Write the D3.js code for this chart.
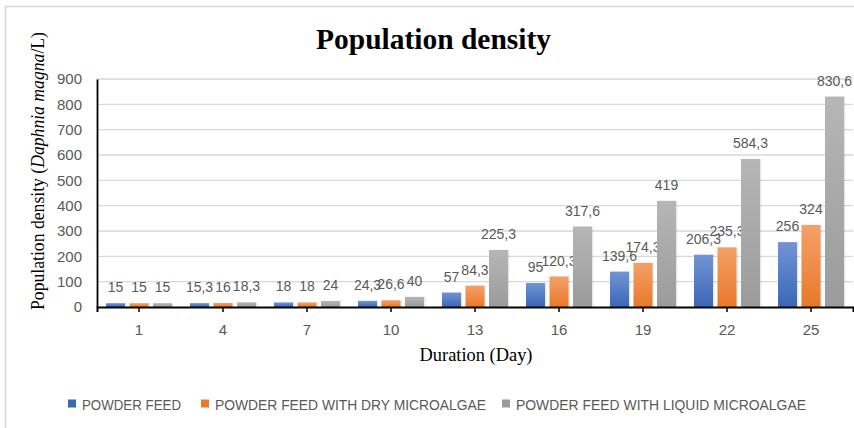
<!DOCTYPE html>
<html>
<head>
<meta charset="utf-8">
<script src="https://cdn.jsdelivr.net/npm/d3@7"></script>
<style>
  html, body { margin: 0; padding: 0; background: #fff; }
  svg { display: block; }
</style>
</head>
<body>
<svg id="chart" width="854" height="428"></svg>
<script>
const days = ["1", "4", "7", "10", "13", "16", "19", "22", "25"];
const seriesNames = ["POWDER FEED", "POWDER FEED WITH DRY MICROALGAE", "POWDER FEED WITH LIQUID MICROALGAE"];
const powderFeed = [15, 15.3, 18, 24.3, 57, 95, 139.6, 206.3, 256];
const dryMicroalgae = [15, 16, 18, 26.6, 84.3, 120.3, 174.3, 235.3, 324];
const liquidMicroalgae = [15, 18.3, 24, 40, 225.3, 317.6, 419, 584.3, 830.6];
const yTicks = [0, 100, 200, 300, 400, 500, 600, 700, 800, 900];
const colors = [["#7294d6", "#3b67b6"], ["#f4a068", "#e8792a"], ["#b6b6b6", "#9b9b9b"]];

const allSeries = [powderFeed, dryMicroalgae, liquidMicroalgae];
const svg = d3.select("#chart");

// outer border
svg.append("rect").attr("x", 5.5).attr("y", 6.5).attr("width", 900).attr("height", 500)
  .attr("fill", "none").attr("stroke", "#d9d9d9").attr("stroke-width", 1.5);

const plotL = 97, plotR = 853, plotT = 79, plotB = 307;

const x = d3.scaleBand().domain(days).range([plotL, plotR]).paddingInner(0.214).paddingOuter(0.107);
const xi = d3.scaleBand().domain(seriesNames).range([0, x.bandwidth()]).paddingInner(0.19);
const y = d3.scaleLinear().domain([0, 900]).range([plotB, plotT]);

// gradients
const defs = svg.append("defs");
colors.forEach((c, i) => {
  const g = defs.append("linearGradient").attr("id", "g" + i).attr("x1", 0).attr("y1", 0).attr("x2", 0).attr("y2", 1);
  g.append("stop").attr("offset", "0%").attr("stop-color", c[0]);
  g.append("stop").attr("offset", "100%").attr("stop-color", c[1]);
});

// gridlines
svg.append("g").selectAll("line").data(yTicks.filter(d => d > 0)).join("line")
  .attr("x1", plotL).attr("x2", plotR)
  .attr("y1", d => y(d)).attr("y2", d => y(d))
  .attr("stroke", "#d9d9d9").attr("stroke-width", 1.3);

// bars
const groups = svg.append("g").selectAll("g").data(days).join("g")
  .attr("transform", d => `translate(${x(d)},0)`);

seriesNames.forEach((s, si) => {
  groups.append("rect")
    .attr("x", xi(s) + 1.5).attr("y", (d, i) => y(allSeries[si][i]))
    .attr("width", xi.bandwidth()).attr("height", (d, i) => plotB - y(allSeries[si][i]))
    .attr("fill", "#000").attr("opacity", 0.08);
  groups.append("rect")
    .attr("x", xi(s)).attr("y", (d, i) => y(allSeries[si][i]))
    .attr("width", xi.bandwidth()).attr("height", (d, i) => plotB - y(allSeries[si][i]))
    .attr("fill", `url(#g${si})`);
  groups.append("text")
    .attr("x", xi(s) + xi.bandwidth() / 2)
    .attr("y", (d, i) => y(allSeries[si][i]) - 11)
    .attr("text-anchor", "middle")
    .attr("font-family", "Liberation Sans, Arial, sans-serif")
    .attr("font-size", 14).attr("fill", "#595959")
    .text((d, i) => String(allSeries[si][i]).replace(".", ","));
});

// y axis
const yAxis = svg.append("g").attr("transform", `translate(${plotL},0)`)
  .call(d3.axisLeft(y).tickValues(yTicks).tickSize(0).tickPadding(15));
yAxis.select(".domain").attr("stroke", "#000").attr("stroke-width", 1.8);
yAxis.selectAll("text").attr("font-family", "Liberation Sans, Arial, sans-serif")
  .attr("font-size", 15).attr("fill", "#595959");

// x axis
const xAxis = svg.append("g").attr("transform", `translate(0,${plotB})`)
  .call(d3.axisBottom(x).tickSize(5).tickSizeOuter(5).tickPadding(12));
xAxis.select(".domain").attr("stroke", "#000").attr("stroke-width", 2);
xAxis.selectAll(".tick line").attr("stroke", "#000").attr("stroke-width", 1.5);
xAxis.selectAll("text").attr("font-family", "Liberation Sans, Arial, sans-serif")
  .attr("font-size", 15).attr("fill", "#595959");

// title
svg.append("text").attr("x", 433.5).attr("y", 48.5).attr("text-anchor", "middle")
  .attr("font-family", "Liberation Serif, Times New Roman, serif").attr("font-weight", "bold")
  .attr("font-size", 29).attr("fill", "#000")
  .attr("textLength", 235).attr("lengthAdjust", "spacingAndGlyphs")
  .text("Population density");

// axis titles
const yt = svg.append("text").attr("transform", "translate(44,171) rotate(-90)")
  .attr("text-anchor", "middle")
  .attr("font-family", "Liberation Serif, Times New Roman, serif")
  .attr("font-size", 18).attr("fill", "#000")
  .attr("textLength", 278).attr("lengthAdjust", "spacingAndGlyphs");
yt.append("tspan").text("Population density (");
yt.append("tspan").attr("font-style", "italic").text("Daphnia magna");
yt.append("tspan").text("/L)");

svg.append("text").attr("x", 476).attr("y", 361).attr("text-anchor", "middle")
  .attr("font-family", "Liberation Serif, Times New Roman, serif")
  .attr("font-size", 18).attr("fill", "#000")
  .attr("textLength", 113).attr("lengthAdjust", "spacingAndGlyphs")
  .text("Duration (Day)");

// legend
const legendX = [68, 201, 502];
const legendW = [99, 271, 290];
seriesNames.forEach((s, i) => {
  svg.append("rect").attr("x", legendX[i]).attr("y", 399.5).attr("width", 8).attr("height", 8)
    .attr("fill", colors[i][1]);
  svg.append("text").attr("x", legendX[i] + 14).attr("y", 410)
    .attr("font-family", "Liberation Sans, Arial, sans-serif")
    .attr("font-size", 15).attr("fill", "#595959")
    .attr("textLength", legendW[i]).attr("lengthAdjust", "spacingAndGlyphs")
    .text(s);
});
</script>
</body>
</html>
